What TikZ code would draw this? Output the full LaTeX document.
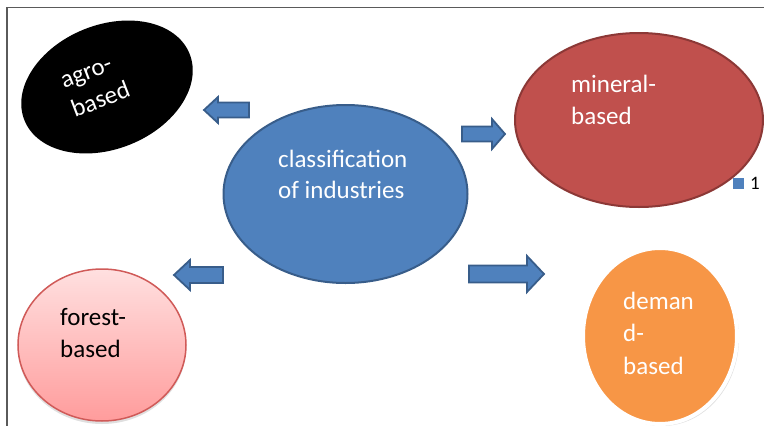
\documentclass[tikz,border=0pt]{standalone}
\usepackage{fontspec}
\setmainfont{Carlito}
\usetikzlibrary{shapes.geometric,shadows}
\definecolor{accblue}{HTML}{4F81BD}
\definecolor{accblueedge}{HTML}{385D8A}
\definecolor{accred}{HTML}{C0504D}
\definecolor{accrededge}{HTML}{8C3836}
\definecolor{pinktop}{HTML}{FFE0E0}
\definecolor{pinkbot}{HTML}{FF9C9C}
\definecolor{pinkedge}{HTML}{D05A58}
\definecolor{accorange}{HTML}{F79646}
\definecolor{framegray}{HTML}{5A5A5A}
\tikzset{
  bubble/.style={ellipse, inner sep=0pt},
  lbl/.style={inner sep=0pt, font=\fontsize{25}{31}\selectfont, text=white},
  blockarrow/.style={fill=accblue, draw=accblueedge, line width=1.8pt, line join=miter},
}
\begin{document}
\begin{tikzpicture}[x=1pt,y=-1pt]
\useasboundingbox (0,0) rectangle (764,426);
% frame
\draw[framegray, line width=1.5pt] (7,426) -- (7,7.5) -- (764,7.5);
% ellipses
\node[bubble, fill=black, minimum width=178pt, minimum height=124pt, rotate=22] (agro) at (107,87) {};
\node[bubble, fill=accblue, draw=accblueedge, line width=2pt, minimum width=244pt, minimum height=178pt] (centre) at (345.5,194) {};
\node[bubble, fill=accred, draw=accrededge, line width=2pt, minimum width=248pt, minimum height=174pt] (mineral) at (639,120) {};
\node[bubble, top color=pinktop, bottom color=pinkbot, draw=pinkedge, line width=1.5pt, minimum width=168pt, minimum height=152pt,
      drop shadow={opacity=0.25, shadow xshift=0pt, shadow yshift=-3pt}] (forest) at (102,345) {};
\node[bubble, fill=accorange, draw=white, line width=4pt, minimum width=154pt, minimum height=176pt,
      drop shadow={opacity=0.25, shadow xshift=2pt, shadow yshift=-2pt}] (demand) at (660,336) {};
% texts
\node[lbl, anchor=base west] (t1) at (278,167) {classification};
\node[lbl, anchor=base west] (t2) at (278,198) {of industries};
\node[lbl, anchor=base west] (m1) at (571,92) {mineral-};
\node[lbl, anchor=base west] (m2) at (571,124) {based};
\node[lbl, anchor=base west, text=black] (f1) at (60,325) {forest-};
\node[lbl, anchor=base west, text=black] (f2) at (60,357) {based};
\node[lbl, anchor=base west] (d1) at (623,309) {deman};
\node[lbl, anchor=base west] (d2) at (623,341) {d-};
\node[lbl, anchor=base west] (d3) at (623,374) {based};
\node[lbl, anchor=base west, align=left, rotate=21] (agrotxt) at (75,118) {agro-\\based};
% block arrows
\draw[blockarrow] (249,102.5) -- (218,102.5) -- (218,97) -- (204,110) -- (218,123) -- (218,117.5) -- (249,117.5) -- cycle;
\draw[blockarrow] (462,126.5) -- (492,126.5) -- (492,119) -- (505,134) -- (492,149) -- (492,141.5) -- (462,141.5) -- cycle;
\draw[blockarrow] (223,267) -- (190,267) -- (190,260) -- (174,275) -- (190,290) -- (190,283) -- (223,283) -- cycle;
\draw[blockarrow] (469,265.5) -- (527,265.5) -- (527,256) -- (544,274) -- (527,292) -- (527,282.5) -- (469,282.5) -- cycle;
% legend
\node[fill=accblue, minimum size=11pt, inner sep=0pt] (legsq) at (738,183) {};
\node[inner sep=0pt, anchor=base west, font=\fontsize{19}{22}\selectfont] (legtxt) at (750,189.5) {1};
\end{tikzpicture}
\end{document}
